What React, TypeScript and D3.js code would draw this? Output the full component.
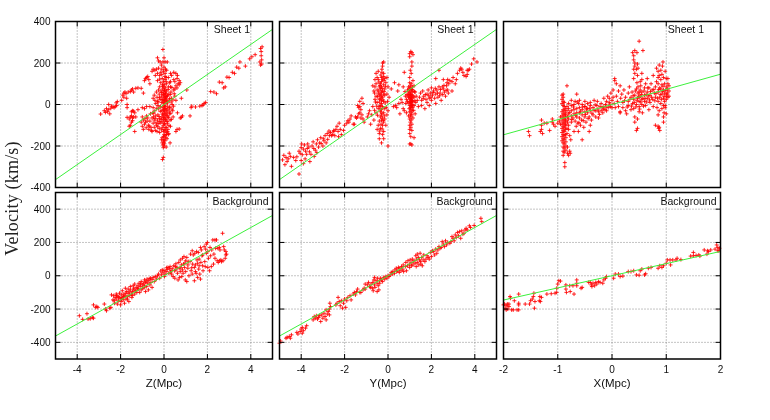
import React, { useRef, useEffect } from 'react';
import * as d3 from 'd3';

type Pt = [number, number];

// km/s against Mpc
const sheetZ: Pt[] = [
  [-2.92,-46],[-2.75,-30],[-2.7,-38],[-2.65,-20],[-2.6,-35],[-2.55,-25],[-2.5,-45],[-2.45,-18],[-2.42,-8],[-2.55,0],[-2.35,-12],[-2.3,-15],[-2.25,-10],[-2.2,8],[-2.15,14],[-2.18,-5],[-1.95,20],[-1.85,35],[-1.9,45],[-1.85,55],[-1.8,60],[-1.75,52],[-1.72,30],[-1.7,0],[-1.7,-15],[-1.65,60],[-1.55,62],[-1.5,70],[-1.45,75],[-1.4,60],[-1.3,78],[-1.2,80],[-1.05,78],[-0.95,55],
  [-0.9,115],[-0.85,125],[-0.8,130],[-0.75,135],[-0.7,120],[-0.65,100],[-0.55,160],[-0.5,170],[-0.42,165],[-0.35,170],[-0.3,225],[-0.25,210],[-0.18,205],[-0.12,190],[-0.1,170],[-0.3,150],[-0.2,140],[-0.05,265],[0.05,205],[0.0,180],[0.07,170],[0.15,205],[-0.02,160],[0.05,150],[0.1,130],[0.3,150],[0.35,140],[0.45,155],[0.55,150],[0.6,125],[0.7,115],[0.75,105],[0.65,100],[0.55,90],[0.5,75],[0.6,80],[0.7,95],
  [-1.45,-30],[-1.5,-35],[-1.4,-32],[-1.35,-40],[-1.5,-55],[-1.55,-60],[-1.45,-65],[-1.4,-60],[-1.3,-60],[-1.7,-62],[-1.6,-70],[-1.5,-85],[-1.45,-78],[-1.55,-100],[-1.6,-105],[-1.35,-130],
  [-1.2,-25],[-1.0,-15],[-0.9,-20],[-0.8,-10],[-0.65,-10],[-0.5,-15],[-1.0,-60],[-0.95,-75],[-0.9,-95],[-0.85,-85],[-0.8,-55],[-0.75,-65],[-0.72,-100],[-0.7,-120],[-0.65,-80],[-0.62,-45],[-0.6,-110],[-0.55,-130],[-0.5,-90],[-0.48,-60],[-0.42,-30],[-0.4,-125],[-0.35,-100],[-0.3,-75],[-0.28,-50],[-0.25,-20],[-0.22,-115],[-0.2,-135],[-0.18,-90],
  [-0.5,30],[-0.45,45],[-0.42,20],[-0.38,5],[-0.35,60],[-0.32,35],[-0.3,15],[-0.28,-5],[-0.25,70],[-0.22,50],[-0.2,85],[-0.18,25],[-0.16,-10],[-0.15,105],[-0.14,65],[-0.12,40],[-0.1,10],[-0.1,-30],[-0.1,-60],[-0.09,-85],[-0.08,-110],[-0.08,125],[-0.07,95],[-0.06,75],[-0.05,50],[-0.05,25],[-0.05,-15],[-0.04,-45],[-0.03,-70],[-0.03,-100],[-0.03,-130],[-0.02,-155],[-0.02,110],[-0.01,85],[-0.01,60],[0,35],[0,12],[0,-5],[0,-25],[0,-55],[0,-80],[0,-120],[0.01,-145],[0.01,-170],[0.01,95],[0.02,70],[0.02,45],[0.03,20],[0.03,-10],[0.03,-35],[0.04,-65],[0.04,-95],[0.05,-125],[0.05,-150],[0.05,120],[0.06,80],[0.07,55],[0.07,30],[0.08,5],[0.08,-20],[0.09,-50],[0.1,-75],[0.1,-110],[0.1,-135],[0.11,100],[0.12,65],[0.13,40],[0.14,15],[0.15,-8],[0.15,-40],[0.16,-90],[0.17,-60],[0.18,-120],[0.2,85],[0.22,50],[0.24,20],[0.25,-15],[0.26,-45],[0.28,-75],[0.3,110],[0.3,-105],[0.32,60],[0.35,30],[0.38,0],[0.4,-30],[0.42,-60],[0.45,70],[0.5,40],[0.55,20],
  [-0.47,-42],[-0.41,-67],[-0.37,-88],[-0.33,-18],[-0.29,-107],[-0.27,12],[-0.23,-58],[-0.21,33],[-0.19,-82],[-0.17,-33],[-0.13,-72],[-0.11,58],[-0.11,-122],[-0.09,22],[-0.07,-47],[-0.06,88],[-0.04,7],[-0.03,-27],[-0.02,47],[-0.01,-62],[0.01,18],[0.02,-92],[0.03,68],[0.04,-18],[0.05,-42],[0.06,32],[0.07,-72],[0.08,52],[0.09,-112],[0.1,38],[0.11,-28],[0.12,22],[0.13,-52],[0.14,-82],[0.16,42],[0.17,8],[0.18,-22],[0.19,72],[0.21,-62],[0.23,-102],[0.24,-32],[0.26,28],[0.27,-12],[0.29,48],[0.31,-42],[0.33,12],[0.34,-72],[0.36,82],[0.37,-22],[0.41,22],[0.44,-8],[0.47,52],
  [-1.05,-85],[-1.0,-105],[-0.95,-120],[-0.88,-68],[-0.82,-112],[-0.78,-80],[-0.68,-105],[-0.58,-125],[-0.55,-65],[-0.52,-40],[-0.45,-75],[-0.45,-110],[-0.38,-55],[-0.32,-130],[-0.27,-92],[-0.2,-68],
  [-0.4,140],[-0.3,115],[-0.25,175],[-0.2,122],[-0.15,155],[-0.1,145],[-0.05,205],[0,225],[0.05,135],[0.1,110],[0.12,165],[0.2,130],[0.25,105],[0.3,85],[0.45,120],[0.5,110],[0.62,140],
  [-0.12,-170],[-0.08,-185],[0.0,-200],[0.04,-175],[0.08,-160],[0.12,-145],[0.16,-130],[0.22,-140],
  [0.0,-185],[-0.05,-195],[-0.03,-208],[0.02,-190],[0.1,-205],[-0.02,-175],[0.14,-165],[0.28,-185],[-0.08,-160],[-0.07,-265],[-0.03,-255],[0.2,-145],[0.55,-130],[0.6,-120],[0.7,-118],[0.75,-65],[0.8,-62],[0.85,-55],[0.62,-40],[1.2,-55],[0.8,30],[1.05,70],
  [1.28,-8],[1.25,-15],[1.45,-12],[1.65,-8],[1.75,-5],[1.8,-2],[1.85,5],[1.92,10],[2.15,62],[2.3,60],[2.42,52],[2.55,108],[2.68,105],[2.75,80],[2.82,85],[2.9,132],[3.0,130],[3.15,155],[3.25,150],[3.35,180],[3.45,175],[3.5,205],[3.75,185],[3.95,220],[4.05,230],[4.2,240],[4.42,205],[4.45,190],[4.5,215],[4.48,235],[4.48,255],[4.45,270],[4.52,278],[4.5,195]
];

const sheetY: Pt[] = [
  [-4.86,-267],[-4.8,-245],[-4.75,-290],[-4.7,-255],[-4.65,-275],[-4.55,-235],[-4.5,-250],[-4.45,-298],[-4.35,-255],[-4.2,-252],[-4.1,-225],[-4.05,-235],[-4.0,-208],[-3.98,-190],[-3.9,-215],[-3.85,-195],[-3.8,-225],[-3.75,-240],[-3.7,-190],[-3.65,-205],[-3.6,-275],[-3.55,-240],[-3.5,-200],[-3.45,-180],[-3.9,-285],[-4.0,-270],[-4.1,-335],[-3.4,-250],[-3.35,-220],[-3.3,-190],[-3.25,-170],[-3.2,-205],[-3.15,-185],[-3.1,-160],[-3.0,-200],[-2.95,-175],[-2.9,-150],[-2.85,-185],[-2.8,-140],[-2.7,-150],[-2.65,-135],[-2.55,-145],[-2.45,-150],[-2.4,-120],[-2.5,-130],[-2.6,-150],[-2.5,-125],[-2.3,-130],[-2.35,-105],[-2.28,-155],[-2.2,-120],[-2.25,-90],[-2.15,-145],[-2.05,-125],[-2.0,-100],[-1.9,-90],[-1.85,-78],[-1.8,-85],[-1.75,-70],[-1.7,-55],[-1.6,-95],[-1.55,-95],[-1.5,-60],[-1.4,-60],[-1.35,-45],[-1.3,-40],[-1.45,-65],[-1.25,-65],[-1.2,-50],[-1.3,-10],[-1.4,-5],[-1.35,-15],[-1.25,-25],[-1.3,15],[-1.2,30],[-1.15,5],[-1.15,-70],[-1.1,-85],
  [-4.6,-262],[-4.25,-270],[-3.95,-242],[-3.82,-262],[-3.72,-212],[-3.62,-228],[-3.42,-212],[-3.28,-232],[-3.08,-188],[-2.98,-165],[-2.78,-168],[-2.72,-128],
  [-0.95,-60],[-0.9,-45],[-0.85,-30],[-0.8,-95],[-0.75,-50],[-0.7,-10],[-0.65,-75],[-0.6,25],[-0.55,-40],[-0.5,-120],[-0.5,70],[-0.45,-100],[-0.45,-20],[-0.4,-165],[-0.4,-140],[-0.4,-80],[-0.35,-60],[-0.35,-115],[-0.35,-35],[-0.35,-5],[-0.35,30],[-0.35,50],[-0.35,75],[-0.35,100],[-0.3,-185],[-0.3,-75],[-0.3,-50],[-0.3,-25],[-0.3,5],[-0.3,20],[-0.3,40],[-0.3,60],[-0.3,85],[-0.3,110],[-0.3,130],[-0.28,155],[-0.28,170],[-0.25,200],[-0.25,185],[-0.25,-145],[-0.25,-100],[-0.25,-65],[-0.25,-10],[-0.25,35],[-0.25,65],[-0.25,120],[-0.2,205],[-0.2,150],[-0.2,-165],[-0.2,-130],[-0.2,-85],[-0.2,-40],[-0.2,15],[-0.2,50],[-0.2,95],[-0.2,135],[-0.15,-70],[-0.15,-20],[-0.15,45],[-0.15,75],[-0.15,125],[-0.1,105],[-0.1,-100],[-0.05,130],[-0.05,50],[-0.05,-50],[0,85],[0,-30],[0,-200],[0.05,35],[-0.45,55],[-0.55,100],[-0.6,85],[-0.65,65],[-0.7,90],[-0.55,40],[-0.5,130],[-0.5,10],[-0.45,120],[-0.4,-10],[-0.4,25],[-0.4,45],[-0.4,85],[-0.45,160],[-0.55,150],
  [-0.62,55],[-0.58,12],[-0.52,-8],[-0.48,38],[-0.42,65],[-0.38,12],[-0.37,92],[-0.33,-22],[-0.32,-95],[-0.28,-42],[-0.27,78],[-0.23,22],[-0.22,-78],[-0.18,62],[-0.17,-55],[-0.13,8],[-0.12,88],[-0.08,-15],[-0.02,15],[-0.42,108],[-0.33,142],[-0.18,115],[-0.62,-28],[-0.48,-52],[-0.38,-128],[-0.27,-118],
  [0.15,75],[0.25,-10],[0.3,105],[0.35,-5],[0.4,-15],[0.45,65],[0.5,5],[0.5,95],[0.55,-45],[0.6,25],[0.65,10],[0.7,85],[0.7,-20],[0.75,-30],[0.8,40],[0.85,25],[0.85,-40],[0.9,70],[0.9,15],[0.95,85],[0.95,55],[0.95,35],[0.95,-55],[0.98,-20],[1.0,130],[1.0,105],[1.0,80],[1.0,60],[1.0,40],[1.0,15],[1.0,-5],[1.0,-35],[1.0,-70],[1.0,-100],[1.0,-120],[1.0,-140],[1.03,165],[1.03,90],[1.03,50],[1.03,25],[1.03,5],[1.03,-15],[1.03,-50],[1.03,-85],[1.05,-60],[1.05,-110],[1.05,70],[1.05,35],[1.05,10],[1.05,-25],[1.07,150],[1.07,100],[1.07,75],[1.07,45],[1.07,20],[1.07,-5],[1.07,-40],[1.07,-75],[1.1,205],[1.1,185],[1.1,60],[1.1,30],[1.1,-15],[1.1,-50],[1.1,-95],[1.1,-125],[1.12,85],[1.12,45],[1.12,0],[1.12,-30],[1.15,115],[1.15,65],[1.15,15],[1.15,-65],[1.2,90],[1.2,35],[1.2,-5],[1.25,60],[1.25,-45],[1.28,10],[1.0,230],[1.0,245],[1.05,255],[1.1,250],[1.15,240],[1.0,-190],[1.05,-190],[1.1,-195],[1.05,-155],[1.2,-160],[0.75,155],
  [0.92,42],[0.93,8],[0.97,72],[1.02,28],[1.04,48],[1.06,-8],[1.08,32],[1.09,12],[1.11,72],[1.13,18],[1.14,-12],[1.16,40],[1.18,-28],[1.22,62],[1.24,18],[0.88,48],[0.82,5],[0.78,62],
  [1.3,40],[1.35,20],[1.4,-10],[1.45,35],[1.5,55],[1.55,20],[1.55,-5],[1.6,65],[1.65,40],[1.7,-20],[1.75,25],[1.8,50],[1.8,10],[1.85,70],[1.9,30],[1.9,-5],[1.95,55],[2.0,20],[2.0,80],[2.05,45],[2.1,65],[2.15,30],[2.2,5],[2.2,50],[2.25,70],[2.3,35],[2.35,85],[2.4,55],[2.45,20],[2.5,85],[2.55,75],[2.6,60],[2.65,40],[2.7,90],[2.75,70],[2.8,100],[2.85,115],[2.95,65],[2.75,120],[2.55,120],[2.2,125],[2.35,165],[2.95,110],[3.0,130],[3.1,100],[3.15,120],[3.2,150],[3.3,165],[3.35,175],[3.4,170],[3.45,155],[3.5,140],[3.6,135],[3.65,145],[3.65,165],[3.75,170],[3.85,195],[3.95,220],[4.1,205],[3.7,165],[-0.6,120],
  [1.62,28],[1.72,48],[1.88,42],[1.98,35],[2.08,58],[2.18,78],[2.28,55],[2.38,42],[2.42,72],[2.52,48],[2.58,92],[2.68,68],[2.78,55],[2.72,105]
];

const sheetX: Pt[] = [
  [-1.54,-130],[-1.52,-150],[-1.32,-130],[-1.3,-120],[-1.28,-140],[-1.3,-100],[-1.3,-75],[-1.25,-90],[-1.2,-90],[-1.15,-125],[-1.1,-85],[-1.1,-70],[-1.08,-95],[-1.05,-105],[-1.0,-90],[-0.97,-80],[-0.95,-95],[-0.95,-60],
  [-0.92,-35],[-0.92,-55],[-0.92,-75],[-0.92,-95],[-0.92,-115],[-0.92,-135],[-0.92,-155],[-0.92,-175],[-0.92,5],[-0.92,25],[-0.92,45],[-0.9,-25],[-0.9,-45],[-0.9,-65],[-0.9,-85],[-0.9,-105],[-0.9,-125],[-0.9,-145],[-0.9,-165],[-0.9,-185],[-0.9,-205],[-0.9,-225],[-0.9,-5],[-0.9,15],[-0.9,35],[-0.9,50],[-0.9,-245],[-0.88,-30],[-0.88,-50],[-0.88,-70],[-0.88,-90],[-0.88,-110],[-0.88,-130],[-0.88,-150],[-0.88,-170],[-0.88,-190],[-0.88,-210],[-0.88,-230],[-0.88,-10],[-0.88,10],[-0.87,-300],[-0.87,-280],[-0.86,-40],[-0.86,-60],[-0.86,-80],[-0.86,-100],[-0.86,-120],[-0.86,-145],[-0.86,-20],[-0.85,-220],[-0.85,-200],[-0.85,-180],[-0.85,-160],[-0.85,-50],[-0.85,-75],[-0.85,-95],[-0.83,-115],[-0.83,-140],[-0.83,-30],[-0.83,-10],[-0.83,90],[-0.82,-235],[-0.82,-205],[-0.82,-60],[-0.82,-85],[-0.8,-245],[-0.8,-120],[-0.8,-100],[-0.8,-70],[-0.8,-45],[-0.8,-20],[-0.8,5],[-0.78,-150],[-0.78,-225],[-0.77,-235],[-0.76,-170],[-0.75,-85],[-0.75,-55],[-0.75,-30],[-0.75,-5],[-0.75,20],
  [-0.72,-65],[-0.7,-130],[-0.7,-45],[-0.7,-25],[-0.7,0],[-0.68,-80],[-0.68,15],[-0.66,-105],[-0.65,-60],[-0.65,-40],[-0.65,-20],[-0.63,-90],[-0.62,-130],[-0.62,5],[-0.6,-65],[-0.6,-40],[-0.6,-15],[-0.6,20],[-0.58,-100],[-0.56,-75],[-0.55,-50],[-0.55,-25],[-0.55,0],[-0.55,-170],[-0.52,-110],[-0.5,-60],[-0.5,-35],[-0.5,-10],[-0.5,15],[-0.5,-10],[-0.48,-85],[-0.45,-40],[-0.45,-20],[-0.45,5],[-0.42,-130],[-0.42,-60],[-0.4,-100],[-0.4,-30],[-0.4,-5],[-0.4,10],[-0.38,-75],[-0.35,-50],[-0.35,-15],[-0.33,20],[-0.3,-60],[-0.3,-30],[-0.28,-5],[-0.27,15],[-0.25,-65],[-0.25,-35],[-0.22,-10],[-0.2,-30],[-0.2,5],[-0.18,-15],[-0.17,-40],[-0.15,30],[-0.15,-10],[-0.13,-25],[-0.12,0],[-0.1,15],[-0.1,-30],[-0.08,40],[-0.07,-15],[-0.05,10],[-0.05,30],[-0.03,-10],[-0.02,55],[0,20],[0,-15],[0.02,35],[0.02,70],[0.04,5],[-0.65,50],
  [-0.78,-38],[-0.74,-72],[-0.71,-12],[-0.67,-52],[-0.64,12],[-0.61,-88],[-0.58,-32],[-0.54,-12],[-0.53,-78],[-0.49,-48],[-0.47,-22],[-0.44,-68],[-0.41,-18],[-0.37,-42],[-0.33,-28],[-0.31,-2],[-0.26,-22],[-0.23,-48],[-0.16,-22],[-0.11,-12],[-0.04,2],
  [0.05,125],[0.05,115],[0.08,100],[0.06,-15],[0.08,40],[0.1,15],[0.12,-10],[0.12,65],[0.15,-35],[0.15,90],[0.15,-40],[0.16,30],[0.18,50],[0.2,-15],[0.2,10],[0.22,70],[0.25,-30],[0.25,35],[0.27,-45],[0.3,15],[0.3,55],[0.3,-5],[0.32,85],[0.35,-25],[0.35,35],[0.37,60],[0.38,5],[0.4,-20],[0.4,25],[0.42,-60],[0.42,-85],[0.42,45],[0.45,75],[0.45,0],[0.47,30],[0.47,-70],[0.47,-115],[0.45,-125],[0.48,55],
  [0.23,18],[0.28,-12],[0.33,25],[0.36,-8],[0.39,42],[0.41,10],[0.43,65],[0.44,-12],[0.46,18],[0.49,40],[0.51,-22],[0.53,12],[0.54,48],[0.57,30],[0.58,-8],[0.59,65],[0.61,28],[0.63,48],[0.64,12],[0.66,80],[0.67,42],[0.69,22],[0.71,62],[0.73,35],[0.77,72],[0.79,18],[0.81,52],[0.84,30],[0.86,72],[0.89,48],[0.91,25],[0.93,62],[0.94,88],[0.96,40],[0.99,68],[1.01,50],
  [0.4,125],[0.42,150],[0.4,170],[0.42,185],[0.42,200],[0.4,215],[0.38,250],[0.42,260],[0.4,235],[0.45,170],[0.47,195],[0.48,175],[0.47,140],[0.46,105],[0.48,85],[0.5,60],[0.5,35],[0.5,15],[0.5,-10],[0.5,-35],[0.52,110],[0.52,70],[0.52,40],[0.53,90],[0.55,150],[0.55,120],[0.55,60],[0.55,25],[0.55,0],[0.56,-40],[0.5,305],[0.46,250],[0.57,260],[0.6,80],[0.6,45],[0.6,15],[0.62,100],[0.62,-5],[0.65,125],[0.65,60],[0.65,30],[0.68,80],[0.68,-25],[0.7,45],[0.7,10],[0.72,100],[0.74,70],[0.75,25],[0.76,140],[0.76,-10],[0.78,55],[0.8,85],[0.8,35],[0.82,110],[0.82,175],[0.83,-15],[0.85,160],[0.85,130],[0.85,100],[0.85,60],[0.85,15],[0.85,-50],[0.87,190],[0.87,140],[0.87,-30],[0.88,80],[0.88,35],[0.9,165],[0.9,120],[0.9,75],[0.9,5],[0.92,145],[0.92,95],[0.92,50],[0.92,-20],[0.93,185],[0.94,205],[0.95,130],[0.95,70],[0.95,30],[0.95,-85],[0.96,-40],[0.97,100],[0.97,55],[0.97,15],[0.98,160],[0.98,-5],[1.0,85],[1.0,40],[1.0,125],[1.0,25],[1.02,75],[1.02,55],[1.03,35],[1.03,100],[1.03,125],[1.05,90],[1.05,65],[1.05,40],[0.95,-5],[0.8,-100],[0.85,-105],[0.86,-115],[0.87,-110],[0.88,-125],[0.95,-60],[1.0,-45],[0.98,-15]
];

const bgZ: Pt[] = [
  [-3.9,-240],[-3.75,-262],[-3.55,-228],[-3.5,-260],[-3.4,-258],[-3.3,-250],[-3.25,-255],[-3.25,-175],[-3.15,-190],[-3.1,-185],[-3.05,-190],[-2.75,-170],[-2.7,-200],[-2.65,-210],[-2.5,-195],[-2.45,-190],[-2.42,-115],[-2.35,-145],[-2.32,-120],[-2.28,-165],[-2.25,-130],[-2.2,-140],[-2.2,-110],[-2.15,-170],[-2.12,-125],[-2.1,-150],[-2.05,-105],[-2.02,-135],[-2.0,-175],[-1.98,-155],[-1.95,-115],[-1.92,-90],[-1.9,-130],[-1.88,-145],[-1.85,-110],[-1.82,-165],[-1.8,-120],[-1.78,-75],[-1.75,-140],[-1.72,-95],[-1.7,-125],[-1.65,-80],[-1.65,-105],[-1.62,-155],[-1.6,-120],[-1.55,-85],[-1.55,-65],[-1.5,-110],[-1.48,-130],[-1.45,-95],[-1.42,-60],[-1.4,-75],[-1.35,-110],[-1.35,-50],[-1.3,-90],[-1.28,-70],[-1.25,-100],[-1.2,-60],[-1.18,-80],[-1.15,-45],[-1.12,-100],[-1.1,-65],[-1.05,-35],[-1.05,-85],[-1.0,-55],[-0.98,-75],[-0.95,-45],[-0.9,-25],[-0.9,-60],[-0.85,-95],[-0.85,-40],[-0.8,-65],[-0.78,-20],[-0.75,-45],[-0.72,-85],[-0.7,-30],[-0.65,-55],[-0.62,-15],[-0.6,-40],[-0.55,-70],[-0.55,-22],[-0.5,-10],[-0.45,-35],[-0.4,-5],[-0.35,-20],[-0.3,0],[-0.25,10],[-0.2,-15],[-0.15,28],[-0.12,5],[-0.08,35],[-0.05,18],[0,32],[0.02,-5],[0.05,10],[0.1,25],[0.15,38],[0.18,50],[0.22,15],[0.25,45],[0.28,55],[0.32,30],[0.35,10],[0.38,42],[0.42,-5],[0.45,60],[0.48,30],[0.5,-15],[0.55,35],[0.55,72],[0.6,50],[0.62,15],[0.65,-25],[0.68,80],[0.7,45],[0.72,-10],[0.75,25],[0.75,95],[0.8,65],[0.82,-5],[0.85,35],[0.85,105],[0.88,15],[0.9,70],[0.92,115],[0.95,50],[0.98,-25],[1.0,90],[1.0,25],[1.05,110],[1.05,-35],[1.1,65],[1.1,45],[1.15,0],[1.2,85],[1.22,130],[1.25,30],[1.3,10],[1.3,150],[1.32,70],[1.35,125],[1.4,-30],[1.4,50],[1.42,135],[1.45,25],[1.48,15],[1.5,145],[1.52,95],[1.55,-10],[1.55,75],[1.58,140],[1.6,40],[1.62,100],[1.65,10],[1.68,-20],[1.68,170],[1.7,80],[1.72,155],[1.75,120],[1.78,60],[1.8,30],[1.85,175],[1.88,85],[1.9,55],[1.92,160],[1.95,135],[1.95,190],[2.0,200],[2.02,50],[2.05,105],[2.1,30],[2.12,170],[2.15,120],[2.18,55],[2.2,155],[2.25,215],[2.28,70],[2.3,130],[2.35,105],[2.35,215],[2.38,165],[2.42,215],[2.45,90],[2.5,80],[2.55,170],[2.58,155],[2.62,95],[2.65,85],[2.72,90],[2.7,255],[2.75,175],[2.82,105],[2.85,125],[2.88,130],[2.85,145],[2.78,155],[2.55,90],[2.48,165],
  [-2.3,-150],[-2.18,-118],[-2.08,-130],[-1.96,-140],[-1.86,-125],[-1.76,-105],[-1.68,-140],[-1.58,-98],[-1.46,-118],[-1.38,-85],[-1.22,-78],[-1.08,-50],[-0.92,-72],[-0.82,-32],[-0.68,-18],[0.12,48],[0.3,22],[0.52,55],[0.78,48],[0.96,75],[1.12,85],[1.28,48],[1.45,65],[1.62,60],[1.78,125],[2.02,145]
];

const bgY: Pt[] = [
  [-5.0,-405],[-4.95,-392],[-4.7,-375],[-4.65,-370],[-4.55,-365],[-4.5,-375],[-4.45,-355],[-4.2,-340],[-4.15,-350],[-4.05,-335],[-4.0,-320],[-3.95,-345],[-3.9,-330],[-3.8,-315],[-3.75,-300],[-3.95,-310],[-3.4,-245],[-3.45,-265],[-3.35,-255],[-3.3,-240],[-3.25,-260],[-3.2,-250],[-3.15,-240],[-3.1,-275],[-3.05,-235],[-3.0,-255],[-2.95,-225],[-2.9,-245],[-2.85,-265],[-2.85,-205],[-2.8,-230],[-2.75,-215],[-2.7,-200],[-2.7,-235],[-2.68,-165],[-2.65,-185],[-2.4,-175],[-2.35,-165],[-2.3,-130],[-2.25,-155],[-2.2,-180],[-2.15,-150],[-2.1,-195],[-2.05,-165],[-2.0,-140],[-1.95,-190],[-1.9,-150],[-1.85,-130],[-1.75,-120],[-1.7,-145],[-1.6,-110],[-1.55,-100],[-1.5,-115],[-1.45,-95],[-1.4,-80],[-1.3,-100],[-1.25,-100],[-1.15,-85],[-1.1,-75],[-1.05,-80],[-1.05,-50],[-0.95,-55],[-0.9,-40],[-0.85,-65],[-0.8,-70],[-0.78,-50],[-0.72,-75],[-0.7,-40],[-0.68,-90],[-0.65,-25],[-0.62,-55],[-0.62,-10],[-0.6,-70],[-0.55,-30],[-0.5,-45],[-0.5,-95],[-0.48,-15],[-0.45,-60],[-0.42,-85],[-0.4,-30],[-0.38,-45],[-0.35,-15],[-0.3,-25],[-0.25,-35],[-0.2,-10],[-0.15,-20],[-0.1,-5],[-0.05,-15],[0,0],[0.05,-5],[0.1,5],[0.15,20],[0.2,10],[0.22,25],[0.3,15],[0.32,35],[0.38,45],[0.4,25],[0.45,30],[0.48,50],[0.52,20],[0.55,45],[0.6,30],[0.62,55],[0.68,40],[0.7,65],[0.72,25],[0.8,55],[0.82,80],[0.85,30],[0.9,60],[0.92,90],[1.0,70],[1.0,50],[1.02,95],[1.08,60],[1.1,80],[1.12,100],[1.15,65],[1.2,90],[1.25,75],[1.28,120],[1.3,55],[1.32,100],[1.35,130],[1.35,80],[1.4,110],[1.42,65],[1.45,95],[1.48,135],[1.5,85],[1.52,70],[1.55,110],[1.58,60],[1.62,95],[1.65,125],[1.7,85],[1.75,100],[1.8,120],[1.85,110],[1.9,100],[1.95,140],[2.0,115],[2.05,150],[2.1,145],[2.15,125],[2.2,160],[2.25,135],[2.3,155],[2.35,175],[2.4,165],[2.45,170],[2.5,205],[2.55,190],[2.6,175],[2.65,210],[2.7,185],[2.75,200],[2.85,195],[2.9,205],[2.95,235],[3.0,225],[3.05,210],[3.1,245],[3.15,230],[3.2,260],[3.25,240],[3.3,265],[3.35,225],[3.4,270],[3.45,250],[3.5,255],[3.55,275],[3.6,285],[3.65,275],[3.75,300],[3.8,290],[3.97,302],[4.28,345],[4.32,325]
];

const bgX: Pt[] = [
  [-2.0,-175],[-1.98,-170],[-1.97,-195],[-1.95,-180],[-1.95,-205],[-1.93,-170],[-1.92,-200],[-1.9,-170],[-1.9,-185],[-1.88,-125],[-1.87,-135],[-1.85,-205],[-1.82,-205],[-1.8,-150],[-1.75,-205],[-1.72,-205],[-1.72,-110],[-1.72,-165],[-1.72,-175],[-1.6,-170],[-1.52,-170],[-1.5,-150],[-1.47,-140],[-1.45,-125],[-1.44,-105],[-1.42,-155],[-1.43,-195],[-1.34,-150],[-1.32,-155],[-1.33,-125],[-1.3,-130],[-1.2,-110],[-1.12,-108],[-1.02,-75],[-1.05,-105],[-1.02,-100],[-1.0,-50],[-0.98,-30],[-0.95,-32],[-0.85,-55],[-0.85,-80],[-0.84,-100],[-0.78,-60],[-0.77,-95],[-0.72,-60],[-0.7,-110],[-0.65,-60],[-0.65,-45],[-0.65,-25],[-0.57,-75],[-0.55,-70],[-0.43,-40],[-0.4,-40],[-0.38,-55],[-0.37,-65],[-0.35,-45],[-0.32,-60],[-0.3,-40],[-0.28,-50],[-0.25,-35],[-0.22,-40],[-0.17,-45],[-0.15,-25],[-0.12,-15],[-0.1,-5],[0.03,-15],[0.06,10],[0.12,10],[0.15,-5],[0.2,-2],[0.3,25],[0.35,25],[0.4,30],[0.45,5],[0.5,3],[0.52,30],[0.55,40],[0.6,5],[0.62,12],[0.67,45],[0.72,50],[0.85,45],[0.88,60],[0.92,50],[0.95,60],[1.0,75],[1.02,95],[1.07,95],[1.08,65],[1.12,95],[1.18,95],[1.2,105],[1.27,97],[1.45,118],[1.5,120],[1.5,140],[1.55,122],[1.6,125],[1.62,118],[1.7,155],[1.75,130],[1.76,150],[1.78,145],[1.82,155],[1.9,160],[1.93,185],[1.95,170],[1.97,150],[1.98,165],[1.95,150]
];

const fitZ: Pt[] = [[-5, -362], [5, 362]];
const fitY: Pt[] = [[-5, -362], [5, 362]];
const fitX: Pt[] = [[-2, -146], [2, 146]];

const tickZ = [-4, -2, 0, 2, 4];
const tickX = [-2, -1, 0, 1, 2];
const tickV = [-400, -200, 0, 200, 400];
const titles = ['Sheet 1', 'Background'];
const xTitles = ['Z(Mpc)', 'Y(Mpc)', 'X(Mpc)'];

const App = () => {
  const svgRef = useRef<SVGSVGElement>(null);

  useEffect(() => {
    const svg = d3.select(svgRef.current);
    svg.selectAll('*').remove();

    // the reference is a soft, resampled image
    svg.append('defs').append('filter').attr('id', 'soft')
      .append('feGaussianBlur').attr('stdDeviation', 0.3);
    const root = svg.append('g').attr('filter', 'url(#soft)');

    const cols = [
      { left: 55.5, right: 272.5, domain: [-5, 5], ticks: tickZ, fit: fitZ, title: xTitles[0], sheetGap: 22.5 },
      { left: 279.5, right: 496.5, domain: [-5, 5], ticks: tickZ, fit: fitY, title: xTitles[1], sheetGap: 23 },
      { left: 503.5, right: 720.5, domain: [-2, 2], ticks: tickX, fit: fitX, title: xTitles[2], sheetGap: 16.5 }
    ];
    const rows = [
      { top: 21.5, bottom: 187.5, domain: [-400, 400], title: titles[0], data: [sheetZ, sheetY, sheetX] },
      { top: 192.5, bottom: 359, domain: [-500, 500], title: titles[1], data: [bgZ, bgY, bgX] }
    ];
    const font = '"Liberation Sans", Arial, sans-serif';

    rows.forEach((row, r) => {
      cols.forEach((col, c) => {
        const x = d3.scaleLinear().domain(col.domain).range([col.left, col.right]);
        const y = d3.scaleLinear().domain(row.domain).range([row.bottom, row.top]);
        const g = root.append('g');

        // dotted grid
        const xGrid = col.ticks.filter(t => t > col.domain[0] && t < col.domain[1]);
        const yGrid = tickV.filter(t => t > row.domain[0] && t < row.domain[1]);
        g.selectAll('.gx').data(xGrid).enter().append('line')
          .attr('x1', d => x(d)).attr('x2', d => x(d))
          .attr('y1', row.top).attr('y2', row.bottom)
          .attr('stroke', '#888').attr('stroke-dasharray', '1,2');
        g.selectAll('.gy').data(yGrid).enter().append('line')
          .attr('x1', col.left).attr('x2', col.right)
          .attr('y1', d => y(d)).attr('y2', d => y(d))
          .attr('stroke', '#888').attr('stroke-dasharray', '1,2');

        // points
        g.append('path')
          .attr('d', row.data[c].map(d => `M${x(d[0]) - 2},${y(d[1])}h4M${x(d[0])},${y(d[1]) - 2}v4`).join(''))
          .attr('fill', 'none').attr('stroke', '#ff0000').attr('stroke-width', 1).attr('stroke-opacity', 0.85);

        // fit line
        const line = d3.line<Pt>().x(d => x(d[0])).y(d => y(d[1]));
        g.append('path').attr('d', line(col.fit)).attr('stroke', '#3cf03c').attr('fill', 'none').attr('stroke-width', 1);

        // inward ticks on all four sides
        const ticks = g.append('g').attr('stroke', '#000').attr('stroke-width', 1);
        xGrid.forEach(t => {
          ticks.append('line').attr('x1', x(t)).attr('x2', x(t)).attr('y1', row.top).attr('y2', row.top + 5);
          ticks.append('line').attr('x1', x(t)).attr('x2', x(t)).attr('y1', row.bottom).attr('y2', row.bottom - 5);
        });
        yGrid.forEach(t => {
          ticks.append('line').attr('x1', col.left).attr('x2', col.left + 5).attr('y1', y(t)).attr('y2', y(t));
          ticks.append('line').attr('x1', col.right).attr('x2', col.right - 5).attr('y1', y(t)).attr('y2', y(t));
        });

        g.append('rect')
          .attr('x', col.left).attr('y', row.top)
          .attr('width', col.right - col.left).attr('height', row.bottom - row.top)
          .attr('fill', 'none').attr('stroke', '#000').attr('stroke-width', 1.5);

        g.append('text')
          .attr('x', col.right - (r === 0 ? col.sheetGap : 4)).attr('y', row.top + (r === 0 ? 11.5 : 12.5))
          .attr('text-anchor', 'end')
          .style('font-family', font).style('font-size', '10.5px').style('fill', '#111')
          .text(row.title);

        if (c === 0) {
          tickV.forEach(t => {
            g.append('text').attr('x', col.left - 5).attr('y', y(t) + 3.5)
              .attr('text-anchor', 'end')
              .style('font-family', font).style('font-size', '10px').style('fill', '#111')
              .text(t);
          });
        }
        if (r === 1) {
          col.ticks.forEach(t => {
            g.append('text').attr('x', x(t)).attr('y', row.bottom + 14)
              .attr('text-anchor', 'middle')
              .style('font-family', font).style('font-size', '10px').style('fill', '#111')
              .text(t);
          });
          g.append('text').attr('x', (col.left + col.right) / 2).attr('y', row.bottom + 28)
            .attr('text-anchor', 'middle')
            .style('font-family', font).style('font-size', '11.5px').style('fill', '#111')
            .text(col.title);
        }
      });
    });

    root.append('text')
      .attr('transform', 'translate(18,198.5) rotate(-90)')
      .attr('text-anchor', 'middle')
      .style('font-family', '"Liberation Serif", serif')
      .style('font-size', '18px')
      .style('letter-spacing', '0.2px')
      .style('fill', '#222')
      .text('Velocity (km/s)');
  }, []);

  return <svg ref={svgRef} width={770} height={420} style={{ position: 'absolute', left: 0, top: 0, background: '#fff' }}></svg>;
};

export default App;
